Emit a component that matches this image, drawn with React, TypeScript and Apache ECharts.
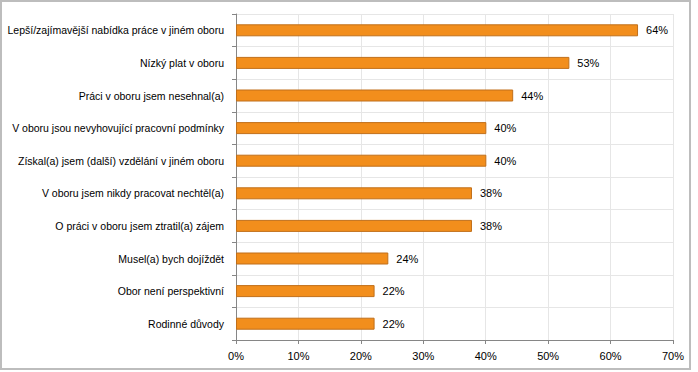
import React, { useEffect, useRef } from "react";
import * as echarts from "echarts";

const categories = [
  "Lepší/zajímavější nabídka práce v jiném oboru",
  "Nízký plat v oboru",
  "Práci v oboru jsem nesehnal(a)",
  "V oboru jsou nevyhovující pracovní podmínky",
  "Získal(a) jsem (další) vzdělání v jiném oboru",
  "V oboru jsem nikdy pracovat nechtěl(a)",
  "O práci v oboru jsem ztratil(a) zájem",
  "Musel(a) bych dojíždět",
  "Obor není perspektivní",
  "Rodinné důvody",
];
const values = [64.4, 53.4, 44.4, 40.1, 40.1, 37.8, 37.8, 24.4, 22.2, 22.2];
const xTicks = [0, 10, 20, 30, 40, 50, 60, 70];

export default function App() {
  const ref = useRef<HTMLDivElement>(null);
  useEffect(() => {
    if (!ref.current) return;
    const chart = echarts.init(ref.current, null, { renderer: "svg" });
    const font = "'Liberation Sans', Arial, sans-serif";
    chart.setOption({
      animation: false,
      backgroundColor: "#ffffff",
      textStyle: { fontFamily: font },
      graphic: [
        {
          type: "rect",
          shape: { x: 1, y: 1, width: 689, height: 368 },
          style: { fill: "none", stroke: "#bdbdbd", lineWidth: 2 },
          silent: true,
        },
      ],
      grid: { left: 236, right: 25, top: 14, bottom: 32, containLabel: false },
      xAxis: {
        type: "value",
        min: xTicks[0],
        max: xTicks[xTicks.length - 1],
        interval: 10,
        axisLine: { show: true, lineStyle: { color: "#868686", width: 1 } },
        axisTick: { show: true, length: 4, lineStyle: { color: "#868686" } },
        splitLine: { show: true, lineStyle: { color: "#e6e6e6", width: 1 } },
        axisLabel: {
          formatter: "{value}%",
          color: "#000",
          fontSize: 11,
          fontFamily: font,
          margin: 10,
        },
      },
      yAxis: {
        type: "category",
        data: categories,
        inverse: true,
        axisLine: { show: true, lineStyle: { color: "#868686", width: 1 } },
        axisTick: { show: true, length: 4, alignWithLabel: false, lineStyle: { color: "#868686" } },
        splitLine: { show: true, lineStyle: { color: "#e6e6e6", width: 1 } },
        axisLabel: { color: "#000", fontSize: 10.5, fontFamily: font, margin: 12 },
      },
      series: [
        {
          type: "bar",
          data: values,
          barWidth: 12,
          itemStyle: { color: "#f28e1c", borderColor: "#c06f1a", borderWidth: 1 },
          label: {
            show: true,
            position: "right",
            distance: 8,
            color: "#000",
            fontSize: 11,
            fontFamily: font,
            formatter: (p: any) => Math.round(p.value) + "%",
          },
        },
      ],
    });
    return () => chart.dispose();
  }, []);
  return (
    <div
      ref={ref}
      style={{ position: "fixed", left: 0, top: 0, width: 698, height: 372 }}
    />
  );
}
